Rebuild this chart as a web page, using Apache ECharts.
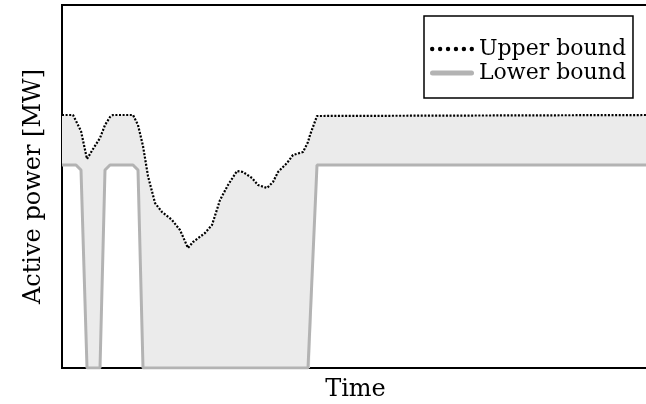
<!DOCTYPE html>
<html>
<head>
<meta charset="utf-8">
<script src="https://cdn.jsdelivr.net/npm/echarts@6/dist/echarts.min.js"></script>
<style>
  html, body { margin: 0; padding: 0; background: #fff; }
  #chart { width: 646px; height: 404px; }
</style>
</head>
<body>
<div id="chart"></div>
<script>
// Time samples (arbitrary units) shared by both bounds
const time = [0, 11, 14, 19, 25, 31, 38, 43, 48, 51, 71, 73, 76, 81, 86, 93, 100, 110, 118, 126,
  131, 143, 150, 158, 166, 175, 181, 190, 196, 205, 211, 216, 225, 231, 241, 246, 248, 255, 256, 587];

// Upper bound of active power [MW]
const upperBound = [253, 253, 247, 237, 209, 219, 230, 243, 251, 253, 253, 251, 243, 222, 192, 165,
  156, 148, 138, 120, 126, 135, 143, 168, 183, 197, 196, 190, 183, 180, 186, 196, 205, 213, 216,
  226, 233, 252, 253, 253];

// Lower bound of active power [MW]
const lowerBound = [203, 203, 203, 198, 0, 0, 0, 198, 203, 203, 203, 203, 198, 0, 0, 0,
  0, 0, 0, 0, 0, 0, 0, 0, 0, 0, 0, 0, 0, 0, 0, 0, 0, 0, 0, 0, 0, 203, 203, 203];

const seriesNames = ['Upper bound', 'Lower bound'];

const pairs = (ys) => time.map((t, i) => [t, ys[i]]);

// legend glyphs: a row of round dots and a rounded bar
const dotsIcon = 'path://' + [0, 1, 2, 3, 4, 5].map((k) => {
  const cx = 2.2 + k * 7.92;
  return `M${(cx - 2.2).toFixed(2)},2.2A2.2,2.2 0 1,0 ${(cx + 2.2).toFixed(2)},2.2A2.2,2.2 0 1,0 ${(cx - 2.2).toFixed(2)},2.2Z`;
}).join(' ');
const barIcon = 'path://M2.5,0H41.5A2.5,2.5 0 0 1 41.5,5H2.5A2.5,2.5 0 0 1 2.5,0Z';

const serif = 'DejaVu Serif';
const chart = echarts.init(document.getElementById('chart'), null, { renderer: 'canvas' });

chart.setOption({
  animation: false,
  backgroundColor: '#ffffff',
  grid: {
    left: 62, top: 5, right: -3, bottom: 36,
    outerBoundsMode: 'none', containLabel: false,
    show: true, borderColor: '#000', borderWidth: 2, backgroundColor: 'transparent'
  },
  xAxis: {
    type: 'value', min: 0, max: 587,
    name: 'Time', nameLocation: 'middle', nameGap: 10,
    nameTextStyle: { fontFamily: serif, fontSize: 24, color: '#000' },
    axisLine: { show: false }, axisTick: { show: false }, axisLabel: { show: false },
    splitLine: { show: false }
  },
  yAxis: {
    type: 'value', min: 0, max: 363,
    name: 'Active power [MW]', nameLocation: 'middle', nameGap: 16,
    nameTextStyle: { fontFamily: serif, fontSize: 24, color: '#000' },
    axisLine: { show: false }, axisTick: { show: false }, axisLabel: { show: false },
    splitLine: { show: false }
  },
  legend: {
    orient: 'vertical', left: 424, top: 16,
    padding: [21, 7, 13, 6], itemGap: 0,
    itemWidth: 44, itemHeight: 24,
    borderColor: '#000', borderWidth: 1.5, borderRadius: 0,
    textStyle: { fontFamily: serif, fontSize: 22, color: '#000', lineHeight: 24 },
    data: [
      { name: seriesNames[0], icon: dotsIcon, itemStyle: { color: '#000', borderWidth: 0 } },
      { name: seriesNames[1], icon: barIcon, itemStyle: { color: '#b3b3b3', borderWidth: 0 } }
    ]
  },
  series: [
    {
      // shaded region between the two bounds
      name: 'range', type: 'custom', data: [[0, 0]], z: 1, silent: true,
      renderItem: (params, api) => {
        const pts = time.map((t, i) => api.coord([t, upperBound[i]]));
        for (let i = time.length - 1; i >= 0; i--) pts.push(api.coord([time[i], lowerBound[i]]));
        return { type: 'polygon', shape: { points: pts }, style: { fill: '#ebebeb' } };
      }
    },
    {
      name: seriesNames[1], type: 'line', data: pairs(lowerBound),
      symbol: 'none', z: 4, itemStyle: { color: '#b3b3b3' },
      lineStyle: { color: '#b3b3b3', width: 3 }
    },
    {
      name: seriesNames[0], type: 'line', data: pairs(upperBound),
      symbol: 'none', z: 5, itemStyle: { color: '#000' },
      lineStyle: { color: '#000', width: 2.2, type: [2, 1.6] }
    }
  ]
});
</script>
</body>
</html>
